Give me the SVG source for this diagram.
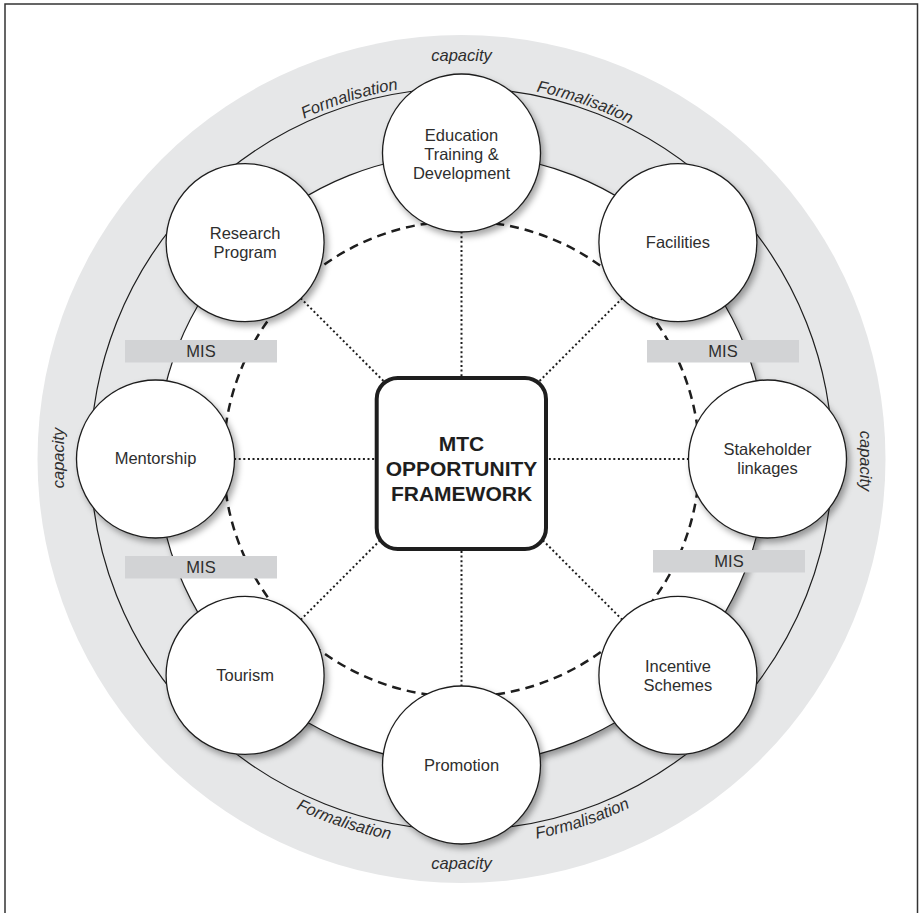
<svg xmlns="http://www.w3.org/2000/svg" width="919" height="913" viewBox="0 0 919 913">
  <style>
    .lbl { font-family: "Liberation Sans", Arial, sans-serif; font-size: 16.5px; fill: #2e2e2e; text-anchor: middle; }
    .ital { font-style: italic; }
    .node circle { fill: #ffffff; stroke: #1e1e1e; stroke-width: 1.3; filter: url(#shadow); }
    .mis rect { fill: #d2d3d5; }
    .dotted { stroke: #1e1e1e; stroke-width: 2; stroke-dasharray: 2 2.6; fill: none; }
    .core { font-family: "Liberation Sans", Arial, sans-serif; font-size: 21px; font-weight: bold; fill: #1e1e1e; text-anchor: middle; }
  </style>
  <defs>
    <filter id="shadow" x="-20%" y="-20%" width="150%" height="150%">
      <feDropShadow dx="3" dy="4" stdDeviation="3" flood-color="#000000" flood-opacity="0.35"/>
    </filter>
    <!-- arcs used to set the ring labels -->
    <path id="arcTop" d="M 86.5,459 A 375 375 0 0 1 836.5,459"/>
    <path id="arcBottom" d="M 74.5,459 A 387 387 0 0 0 848.5,459"/>
  </defs>

  <!-- page frame -->
  <rect x="5" y="4" width="912.5" height="1000" fill="#ffffff" stroke="#333333" stroke-width="1.5"/>

  <!-- outer capacity ring -->
  <circle cx="461.5" cy="459" r="424" fill="#e6e7e8"/>
  <!-- formalisation line -->
  <circle cx="461.5" cy="459" r="371" fill="none" stroke="#1e1e1e" stroke-width="1.2"/>
  <!-- inner white field -->
  <circle cx="461.5" cy="459" r="305" fill="#ffffff" stroke="#1e1e1e" stroke-width="1.2" filter="url(#shadow)"/>
  <!-- MIS ring -->
  <circle cx="461.5" cy="459" r="238" fill="none" stroke="#1e1e1e" stroke-width="2.5" stroke-dasharray="9 6"/>

  <!-- ring labels -->
  <text class="lbl ital" x="461.5" y="61">capacity</text>
  <text class="lbl ital" x="461.5" y="869">capacity</text>
  <text class="lbl ital" transform="translate(63.5,458) rotate(-90)">capacity</text>
  <text class="lbl ital" transform="translate(860,461) rotate(90)">capacity</text>
  <text class="lbl ital"><textPath href="#arcTop" startOffset="40.4%">Formalisation</textPath></text>
  <text class="lbl ital"><textPath href="#arcTop" startOffset="60.6%">Formalisation</textPath></text>
  <text class="lbl ital"><textPath href="#arcBottom" startOffset="40%">Formalisation</textPath></text>
  <text class="lbl ital"><textPath href="#arcBottom" startOffset="60.3%">Formalisation</textPath></text>

  <!-- connectors from the framework to each element -->
  <g id="connectors">
    <line class="dotted" x1="461.5" y1="459" x2="461.5" y2="153"/>
    <line class="dotted" x1="461.5" y1="459" x2="677.9" y2="242.6"/>
    <line class="dotted" x1="461.5" y1="459" x2="767.5" y2="459"/>
    <line class="dotted" x1="461.5" y1="459" x2="677.9" y2="675.4"/>
    <line class="dotted" x1="461.5" y1="459" x2="461.5" y2="765"/>
    <line class="dotted" x1="461.5" y1="459" x2="245.1" y2="675.4"/>
    <line class="dotted" x1="461.5" y1="459" x2="155.5" y2="459"/>
    <line class="dotted" x1="461.5" y1="459" x2="245.1" y2="242.6"/>
  </g>

  <g id="node-education" class="node">
    <circle cx="461.5" cy="153" r="79"/>
    <text class="lbl" x="461.5" y="141">Education</text>
    <text class="lbl" x="461.5" y="160">Training &amp;</text>
    <text class="lbl" x="461.5" y="179">Development</text>
  </g>
  <g id="node-facilities" class="node">
    <circle cx="677.9" cy="242.6" r="79"/>
    <text class="lbl" x="677.9" y="248">Facilities</text>
  </g>
  <g id="node-stakeholder" class="node">
    <circle cx="767.5" cy="459" r="79"/>
    <text class="lbl" x="767.5" y="455">Stakeholder</text>
    <text class="lbl" x="767.5" y="474">linkages</text>
  </g>
  <g id="node-incentive" class="node">
    <circle cx="677.9" cy="675.4" r="79"/>
    <text class="lbl" x="677.9" y="672">Incentive</text>
    <text class="lbl" x="677.9" y="691">Schemes</text>
  </g>
  <g id="node-promotion" class="node">
    <circle cx="461.5" cy="765" r="79"/>
    <text class="lbl" x="461.5" y="771">Promotion</text>
  </g>
  <g id="node-tourism" class="node">
    <circle cx="245.1" cy="675.4" r="79"/>
    <text class="lbl" x="245.1" y="681">Tourism</text>
  </g>
  <g id="node-mentorship" class="node">
    <circle cx="155.5" cy="459" r="79"/>
    <text class="lbl" x="155.5" y="464">Mentorship</text>
  </g>
  <g id="node-research" class="node">
    <circle cx="245.1" cy="242.6" r="79"/>
    <text class="lbl" x="245.1" y="239">Research</text>
    <text class="lbl" x="245.1" y="258">Program</text>
  </g>

  <!-- management information system bands -->
  <g id="mis-top-left" class="mis">
    <rect x="125" y="340" width="152" height="22.5"/>
    <text class="lbl" x="201" y="357">MIS</text>
  </g>
  <g id="mis-top-right" class="mis">
    <rect x="647" y="340" width="152" height="22.5"/>
    <text class="lbl" x="723" y="357">MIS</text>
  </g>
  <g id="mis-bottom-left" class="mis">
    <rect x="125" y="556" width="152" height="22.5"/>
    <text class="lbl" x="201" y="573">MIS</text>
  </g>
  <g id="mis-bottom-right" class="mis">
    <rect x="653" y="550" width="152" height="22.5"/>
    <text class="lbl" x="729" y="567">MIS</text>
  </g>

  <g id="node-framework">
    <rect x="376.7" y="378" width="169.3" height="171" rx="21" fill="#ffffff" stroke="#1e1e1e" stroke-width="4"/>
    <text class="core" x="461.5" y="451">MTC</text>
    <text class="core" x="461.5" y="476">OPPORTUNITY</text>
    <text class="core" x="461.5" y="501">FRAMEWORK</text>
  </g>
</svg>
